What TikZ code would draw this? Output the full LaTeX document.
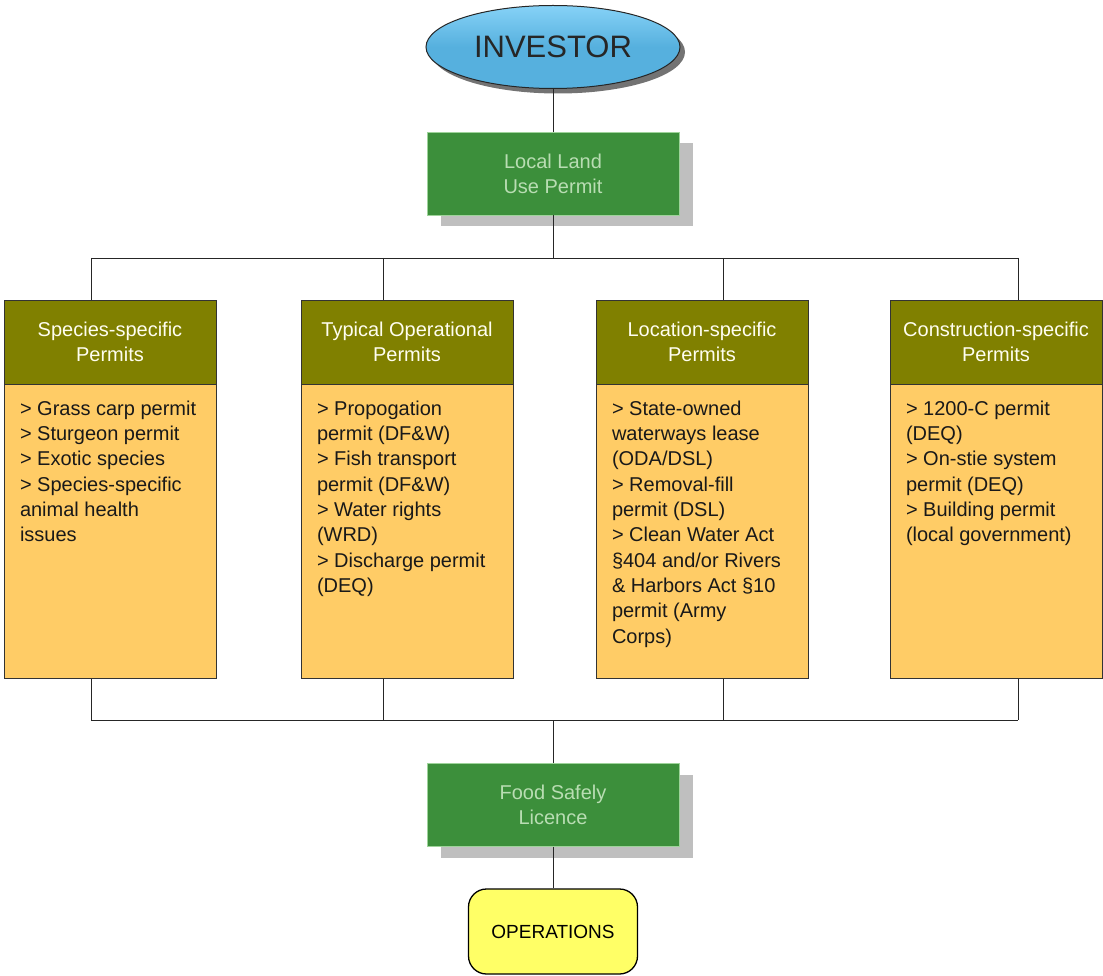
\documentclass[tikz,border=0pt]{standalone}
\usepackage{fontspec}
\setmainfont{Liberation Sans}
\usetikzlibrary{positioning,shapes.geometric,shadows}
\definecolor{skyblue}{HTML}{56B0DE}
\definecolor{skytop}{HTML}{86D2F7}
\definecolor{leafgreen}{HTML}{3C8F3B}
\definecolor{leafedge}{HTML}{9ED39A}
\definecolor{leaftext}{HTML}{B9DDB3}
\definecolor{hdrolive}{HTML}{808000}
\definecolor{permitorange}{HTML}{FFCC66}
\definecolor{opsyellow}{HTML}{FFFF66}
\tikzset{
  wire/.style={draw=black!85,line width=0.8pt},
  investorbox/.style={ellipse,draw=black!85,line width=1pt,
                      top color=skytop,bottom color=skyblue,middle color=skyblue,
                      minimum width=254pt,minimum height=83pt,inner sep=0pt,
                      font=\fontsize{31}{36}\selectfont,text=black!85,
                      drop shadow={shadow xshift=5pt,shadow yshift=-5pt,fill=black,opacity=0.55}},
  licencebox/.style={rectangle,draw=leafedge,line width=0.8pt,fill=leafgreen,
                     text=leaftext,minimum width=252pt,minimum height=83pt,
                     align=center,font=\fontsize{20}{25}\selectfont,
                     drop shadow={shadow xshift=14pt,shadow yshift=-11pt,fill=black,opacity=0.25}},
  permithead/.style={rectangle,draw=black!80,line width=0.9pt,fill=hdrolive,
                     text=white!94!yellow,minimum width=212pt,minimum height=84pt,
                     inner sep=0pt,align=center,font=\fontsize{20}{25}\selectfont},
  permitbody/.style={rectangle,draw=black!80,line width=0.9pt,fill=permitorange,
                     minimum width=212pt,minimum height=294pt,
                     inner xsep=16pt,inner ysep=14pt,text=black!90,
                     font=\fontsize{20}{25.3}\selectfont},
  opsbox/.style={rectangle,rounded corners=18pt,draw=black,line width=1.3pt,
                 fill=opsyellow,minimum width=169pt,minimum height=85pt,
                 font=\fontsize{19}{23}\selectfont}
}
\newcommand{\permitlist}[1]{\parbox[t][262pt][t]{180pt}{\raggedright #1}}
\begin{document}
\begin{tikzpicture}[x=1pt,y=-1pt]
  \useasboundingbox[fill=white] (0,0) rectangle (1103,976);

  % top of the chain
  \node[investorbox] (investor) at (553,47) {INVESTOR};
  \node[licencebox] (landuse) at (553,173.5) {Local Land\\Use Permit};

  % the four permit groups
  \node[permithead] (hdr1) at (110,342) {Species-specific\\Permits};
  \node[permithead] (hdr2) at (407,342) {Typical Operational\\Permits};
  \node[permithead] (hdr3) at (702,342) {Location-specific\\Permits};
  \node[permithead] (hdr4) at (996,342) {Construction-specific\\Permits};

  \node[permitbody,below=0pt of hdr1] (body1) {\permitlist{%
    > Grass carp permit\\ > Sturgeon permit\\ > Exotic species\\
    > Species-specific\\ animal health\\ issues}};
  \node[permitbody,below=0pt of hdr2] (body2) {\permitlist{%
    > Propogation\\ permit (DF\&W)\\ > Fish transport\\ permit (DF\&W)\\
    > Water rights\\ (WRD)\\ > Discharge permit\\ (DEQ)}};
  \node[permitbody,below=0pt of hdr3] (body3) {\permitlist{%
    > State-owned\\ waterways lease\\ (ODA/DSL)\\ > Removal-fill\\
    permit (DSL)\\ > Clean Water Act\\ \S404 and/or Rivers\\
    \& Harbors Act \S10\\ permit (Army\\ Corps)}};
  \node[permitbody,below=0pt of hdr4] (body4) {\permitlist{%
    > 1200-C permit\\ (DEQ)\\ > On-stie system\\ permit (DEQ)\\
    > Building permit\\ (local government)}};

  % bottom of the chain
  \node[licencebox] (foodsafety) at (553,805) {Food Safely\\Licence};
  \node[opsbox] (operations) at (553,931.5) {OPERATIONS};

  % bus points
  \coordinate (hub) at (553,258);
  \coordinate (sink) at (553,720);
  \coordinate (tap1) at (91,258);
  \coordinate (tap2) at (383,258);
  \coordinate (tap3) at (723,258);
  \coordinate (tap4) at (1018,258);
  \coordinate (foot1) at (91,720);
  \coordinate (foot2) at (383,720);
  \coordinate (foot3) at (723,720);
  \coordinate (foot4) at (1018,720);

  \draw[wire] (investor) -- (landuse);
  \draw[wire] (landuse) -- (hub);
  \draw[wire] (tap1) -- (tap4);
  \draw[wire] (foot1) -- (foot4);
  \foreach \i in {1,...,4} {
    \draw[wire] (tap\i) -- (tap\i |- hdr\i.north);
    \draw[wire] (foot\i |- body\i.south) -- (foot\i);
  }
  \draw[wire] (sink) -- (foodsafety);
  \draw[wire] (foodsafety) -- (operations);
\end{tikzpicture}
\end{document}
